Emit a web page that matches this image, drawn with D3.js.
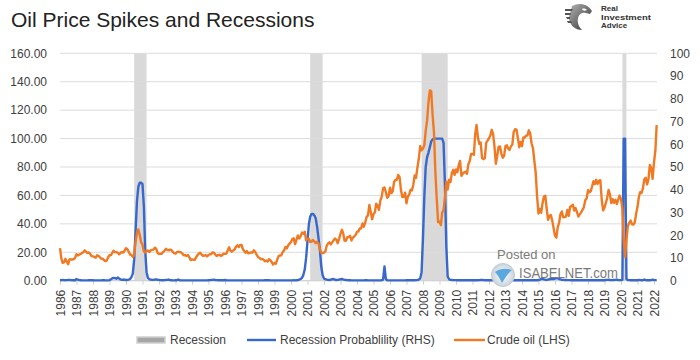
<!DOCTYPE html>
<html><head><meta charset="utf-8">
<script src="https://cdn.jsdelivr.net/npm/d3@7"></script>
<style>body{margin:0;background:#fff}svg{display:block;font-family:"Liberation Sans",Arial,sans-serif}</style>
</head><body><svg id="c" width="700" height="360"></svg>
<script>
// ---------- DATA ----------
const firstMonth = [1986, 0]; // Jan 1986, monthly series
const crudeOil = [
 22.93,15.46,12.61,12.84,15.38,13.43,11.59,15.10,14.87,14.90,15.22,16.11, // 1986
 18.65,17.75,18.30,18.68,19.44,20.07,21.34,20.31,19.53,19.86,18.85,17.28, // 1987
 17.13,16.80,16.20,17.86,17.42,16.53,15.50,15.52,14.54,13.77,14.14,16.38, // 1988
 18.02,17.94,19.48,21.07,20.12,20.05,19.78,18.58,19.59,20.10,19.86,21.10, // 1989
 22.86,22.11,20.39,18.43,18.20,16.70,18.45,27.31,33.51,36.04,32.33,27.28, // 1990
 25.23,20.48,19.90,20.83,21.23,20.19,21.40,21.69,21.89,23.23,22.46,19.50, // 1991
 18.79,19.01,18.92,20.23,20.98,22.39,21.78,21.34,21.88,21.69,20.34,19.41, // 1992
 19.03,20.09,20.32,20.25,19.95,19.09,17.89,18.01,17.50,18.15,16.61,14.52, // 1993
 15.03,14.78,14.68,16.42,17.89,19.06,19.66,18.38,17.45,17.72,18.07,17.16, // 1994
 18.04,18.57,18.54,19.90,19.74,18.45,17.33,18.02,18.23,17.43,17.99,19.03, // 1995
 18.85,19.09,21.33,23.50,21.17,20.42,21.30,21.90,23.97,24.88,23.71,25.23, // 1996
 25.13,22.18,20.97,19.70,20.82,19.26,19.66,19.95,19.80,21.33,20.19,18.33, // 1997
 16.72,16.06,15.12,15.35,14.91,13.72,14.17,13.47,15.03,14.46,13.00,11.35, // 1998
 12.52,12.01,14.68,17.31,17.72,17.92,20.10,21.28,23.80,22.69,25.00,26.10, // 1999
 27.26,29.37,29.84,25.72,28.79,31.82,29.70,31.26,33.88,33.11,34.42,28.44, // 2000
 29.59,29.61,27.25,27.49,28.63,27.60,26.43,27.37,26.20,22.17,19.64,19.39, // 2001
 19.72,20.72,24.53,26.18,27.04,25.52,26.97,28.39,29.66,28.84,26.35,29.46, // 2002
 32.95,35.83,33.51,28.17,28.11,30.66,30.75,31.57,28.31,30.34,31.11,32.13, // 2003
 34.31,34.69,36.74,36.75,40.28,38.03,40.78,44.90,45.94,53.28,48.47,43.15, // 2004
 46.84,48.15,54.19,52.98,49.83,56.35,58.99,64.98,65.59,62.26,58.32,59.41, // 2005
 65.49,61.63,62.69,69.44,70.84,70.95,74.41,73.04,63.80,58.89,59.08,61.96, // 2006
 54.51,59.28,60.44,63.98,63.46,67.49,74.12,72.36,79.92,85.80,94.77,91.69, // 2007
 92.97,95.39,105.45,112.58,125.40,133.88,133.37,116.67,104.11,76.61,57.31,41.12, // 2008
 41.71,39.09,47.94,49.65,59.03,69.64,64.15,71.05,69.41,75.72,77.99,74.47, // 2009
 78.33,76.39,81.20,84.29,73.74,75.34,76.32,76.60,75.24,81.89,84.25,89.15, // 2010
 89.17,88.58,102.86,109.53,100.90,96.26,97.30,86.33,85.52,86.32,97.16,98.56, // 2011
 100.27,102.20,106.16,103.32,94.66,82.30,87.90,94.13,94.51,89.49,86.53,87.86, // 2012
 94.76,95.31,92.94,92.02,94.51,95.77,104.67,106.57,106.29,100.54,93.86,97.63, // 2013
 94.62,100.82,100.80,102.07,102.18,105.79,103.59,96.54,93.21,84.40,75.79,59.29, // 2014
 47.22,50.58,47.82,54.45,59.27,59.82,50.90,42.87,45.48,46.22,42.44,37.19, // 2015
 31.68,30.32,37.55,40.75,46.71,48.76,44.65,44.72,45.18,49.78,45.66,51.97, // 2016
 52.50,53.47,49.33,51.06,48.48,45.18,46.63,48.04,49.82,51.58,56.64,57.88, // 2017
 63.70,62.23,62.73,66.25,69.98,67.87,70.98,68.06,70.23,70.75,56.96,49.52, // 2018
 51.38,54.95,58.15,63.86,60.83,54.66,57.35,54.81,56.95,53.96,57.03,59.88, // 2019
 57.52,50.54,29.21,16.55,28.56,38.31,40.71,42.34,39.63,39.40,40.94,47.02, // 2020
 52.00,59.04,62.33,61.72,65.17,71.38,72.49,67.73,71.65,81.48,79.15,71.71, // 2021
 83.22,91.64,109.50 // 2022
];
const recessionProb = [
 0.3,0.4,0.5,0.4,0.3,0.4,0.5,0.6,0.4,0.3,0.3,0.3, // 1986
 1.2,0.7,0.4,0.3,0.2,0.2,0.2,0.2,0.2,0.3,0.4,0.3, // 1987
 0.3,0.2,0.2,0.2,0.2,0.2,0.2,0.3,0.3,0.2,0.2,0.2, // 1988
 0.4,1.0,1.6,2.0,1.8,1.4,2.2,1.5,0.9,0.6,0.8,0.7, // 1989
 0.5,0.6,0.8,1.2,2.5,5,15,35,56,66,69,69,         // 1990
 68,52,22,6,2,1,0.8,0.6,0.6,0.8,0.9,0.7,          // 1991
 0.6,0.4,0.3,0.3,0.4,0.5,0.6,0.8,0.4,0.3,0.2,0.2, // 1992
 0.4,0.3,0.8,0.3,0.2,0.2,0.2,0.2,0.2,0.2,0.2,0.2, // 1993
 0.2,0.2,0.2,0.2,0.2,0.2,0.2,0.2,0.2,0.2,0.2,0.2, // 1994
 0.3,0.4,0.5,0.6,0.7,0.5,0.4,0.3,0.3,0.3,0.3,0.3, // 1995
 0.5,0.3,0.2,0.2,0.2,0.2,0.2,0.2,0.2,0.2,0.2,0.2, // 1996
 0.2,0.2,0.2,0.2,0.2,0.2,0.2,0.2,0.2,0.2,0.2,0.2, // 1997
 0.2,0.2,0.2,0.2,0.2,0.3,0.3,0.4,0.3,0.2,0.2,0.2, // 1998
 0.2,0.2,0.2,0.2,0.2,0.2,0.2,0.2,0.2,0.2,0.2,0.2, // 1999
 0.2,0.2,0.3,0.2,0.3,0.4,0.8,1.2,2,4,8,16,        // 2000
 28,40,45,47,47,46,44,38,30,22,10,4,              // 2001
 1.5,1,0.8,0.6,0.5,0.8,1,1.2,0.7,0.5,0.6,0.8,     // 2002
 1,1.2,0.9,0.6,0.5,0.4,0.3,0.3,0.2,0.2,0.2,0.2,   // 2003
 0.2,0.2,0.2,0.2,0.2,0.2,0.3,0.3,0.2,0.2,0.2,0.2, // 2004
 0.2,0.2,0.2,0.2,0.2,0.2,0.3,0.8,10,1.2,0.3,0.2,  // 2005
 0.2,0.2,0.2,0.2,0.2,0.2,0.2,0.2,0.2,0.2,0.2,0.2, // 2006
 0.3,0.4,0.3,0.3,0.3,0.3,0.3,0.4,0.5,0.8,1.5,6,   // 2007
 30,60,80,87,90,94,98,99.5,100,100,100,100,       // 2008
 100,100,100,97,68,24,3,1,0.6,0.5,0.4,0.4,        // 2009
 0.4,0.3,0.3,0.3,0.3,0.3,0.3,0.3,0.3,0.3,0.3,0.3, // 2010
 0.3,0.3,0.3,0.3,0.3,0.4,0.5,0.6,0.4,0.3,0.3,0.3, // 2011
 0.3,0.3,0.3,0.3,0.3,0.3,0.3,0.3,0.3,0.3,0.3,0.3, // 2012
 0.3,0.3,0.3,0.3,0.3,0.3,0.3,0.3,0.3,0.3,0.3,0.3, // 2013
 0.4,0.3,0.3,0.3,0.3,0.3,0.3,0.3,0.3,0.3,0.3,0.3, // 2014
 0.4,0.8,1.2,1.4,1.0,0.7,0.6,0.8,1.0,1.2,1.4,1.2, // 2015
 1.5,1.8,1.6,1.2,0.9,0.7,0.6,0.5,0.5,0.4,0.4,0.4, // 2016
 0.3,0.3,0.3,0.3,0.3,0.3,0.3,0.3,0.3,0.3,0.3,0.3, // 2017
 0.3,0.3,0.3,0.3,0.3,0.3,0.3,0.3,0.3,0.3,0.3,0.3, // 2018
 0.3,0.5,0.6,0.7,0.5,0.4,0.4,0.5,0.6,0.8,0.5,0.4, // 2019
 0.4,0.6,100,100,1.2,0.5,0.4,0.3,0.3,0.3,0.3,0.3, // 2020
 0.3,0.6,0.4,0.3,0.3,0.8,0.4,0.3,0.3,0.3,0.4,0.7, // 2021
 0.5,0.4,0.4                                       // 2022
];
const recessions = [["1990-07","1991-03"],["2001-03","2001-11"],["2007-12","2009-06"],["2020-02","2020-04"]];
const yearLabels = ["1986","1987","1988","1989","1990","1991","1992","1993","1994","1995","1996","1997","1998","1999","2000","2001","2002","2003","2004","2005","2006","2007","2008","2009","2010","2011","2012","2013","2014","2015","2016","2017","2018","2019","2020","2021","2022"];
const leftTicks = [0,20,40,60,80,100,120,140,160];
const rightTicks = [0,10,20,30,40,50,60,70,80,90,100];
const title = "Oil Price Spikes and Recessions";
const legendItems = ["Recession","Recession Probablility (RHS)","Crude oil (LHS)"];
const logoLines = ["Real","Investment","Advice"];

// ---------- CHART ----------
const svg = d3.select("#c");
const C = {orange:"#f07a24", blue:"#3868cc", grid:"#dcdcdc", band:"#d9d9d9", text:"#404040"};
const parseM = d3.utcParse("%Y-%m");
const monthDate = i => new Date(Date.UTC(firstMonth[0], firstMonth[1] + i, 1));
const x = d3.scaleUtc().domain([new Date(Date.UTC(1986,0,1)), new Date(Date.UTC(2022,0,1))]).range([60,654]);
const yL = d3.scaleLinear().domain([0,160]).range([280.7,53.3]);
const yR = d3.scaleLinear().domain([0,100]).range([280.7,53.3]);
const plotR = 657;

// title
svg.append("text").attr("x",11).attr("y",26.5).attr("font-size",21).attr("fill","#222").text(title);

// recession bands
svg.append("g").selectAll("rect").data(recessions).join("rect")
  .attr("x", d => x(parseM(d[0])))
  .attr("width", d => x(d3.utcMonth.offset(parseM(d[1]),1)) - x(parseM(d[0])))
  .attr("y", yL(160)).attr("height", yL(0)-yL(160)).attr("fill", C.band);

// gridlines
svg.append("g").selectAll("line").data(leftTicks).join("line")
  .attr("x1",60).attr("x2",plotR).attr("y1",d=>yL(d)).attr("y2",d=>yL(d))
  .attr("stroke",C.grid).attr("stroke-width",1);

// left axis
const axL = d3.axisLeft(yL).tickValues(leftTicks).tickFormat(d3.format(".2f")).tickSize(0).tickPadding(0);
const gL = svg.append("g").attr("transform","translate(47,0)").call(axL);
gL.select(".domain").remove();
gL.selectAll("text").attr("font-size",12).attr("fill",C.text).attr("font-family","Liberation Sans, Arial, sans-serif");

// right axis
const axR = d3.axisRight(yR).tickValues(rightTicks).tickSize(0).tickPadding(0);
const gR = svg.append("g").attr("transform","translate(670,0)").call(axR);
gR.select(".domain").remove();
gR.selectAll("text").attr("font-size",12).attr("fill",C.text).attr("font-family","Liberation Sans, Arial, sans-serif");

// x axis
const yearDates = yearLabels.map(y => new Date(Date.UTC(+y,0,1)));
const axX = d3.axisBottom(x).tickValues(yearDates).tickFormat(d3.utcFormat("%Y")).tickSize(4).tickPadding(0);
const gX = svg.append("g").attr("transform",`translate(0,${yL(0)})`).call(axX);
gX.select(".domain").attr("stroke","#cfcfcf").attr("d",`M60,0H${plotR}`);
gX.selectAll(".tick line").attr("stroke","#cfcfcf");
gX.selectAll("text").attr("font-size",12).attr("fill",C.text).attr("font-family","Liberation Sans, Arial, sans-serif")
  .attr("transform","rotate(-90)").attr("text-anchor","end").attr("x",-9).attr("y",0).attr("dy","0.36em");

// lines
const lineL = d3.line().x((d,i)=>x(monthDate(i))).y(d=>yL(d)).curve(d3.curveLinear);
svg.append("path").datum(recessionProb).attr("d",lineL).attr("fill","none")
  .attr("stroke",C.blue).attr("stroke-width",2.4).attr("stroke-linejoin","round");
svg.append("path").datum(crudeOil).attr("d",lineL).attr("fill","none")
  .attr("stroke",C.orange).attr("stroke-width",2.4).attr("stroke-linejoin","round");

// watermark
const wm = svg.append("g");
const defs = svg.append("defs");
const rg = defs.append("radialGradient").attr("id","gl");
rg.append("stop").attr("offset","0%").attr("stop-color","#ffffff");
rg.append("stop").attr("offset","100%").attr("stop-color","#c9d3dc");
wm.append("circle").attr("cx",503).attr("cy",275).attr("r",11.5).attr("fill","url(#gl)").attr("stroke","#c4c9ce").attr("stroke-width",1);
wm.append("path").attr("d","M495,272 C500,268 507,268 512,270 C508,273 505,278 502,283 C500,279 498,275 495,272 Z").attr("fill","#5aa8e0");
wm.append("text").attr("x",497).attr("y",259).attr("font-size",13).attr("fill","#7a7a7a").text("Posted on");
wm.append("text").attr("x",519).attr("y",278).attr("font-size",15).attr("fill","#7a7a7a")
  .attr("textLength",99).attr("lengthAdjust","spacingAndGlyphs").text("ISABELNET.com");

// logo
const lg = defs.append("linearGradient").attr("id","eg").attr("x1","0").attr("y1","0").attr("x2","1").attr("y2","1");
lg.append("stop").attr("offset","0%").attr("stop-color","#b5b5b5");
lg.append("stop").attr("offset","100%").attr("stop-color","#2e2e2e");
const logo = svg.append("g").attr("transform","translate(565,3)");
logo.append("path").attr("fill","url(#eg)")
  .attr("d","M7,3 C14,-1 23,1 27,8 L25,11 L21,10 C17,9 14,11 13,15 C12,20 14,24 17,27 C9,27 4,21 4,14 Z");
logo.append("path").attr("fill","#555").attr("d","M0,6 L8,6 L7,8 L0,8 Z M0,10 L6,10 L5.5,12 L0,12 Z M1,14 L5,14 L5,16 L2,16 Z M2,18 L6,18 L7,20 L3,20 Z");
logo.append("path").attr("fill","#fff").attr("d","M17,6 C19,5 21,6 22,7 C20,8 18,8 17,6 Z");
const lt = svg.append("g").attr("font-size",8).attr("font-weight","bold").attr("fill","#333");
lt.selectAll("text").data(logoLines).join("text")
  .attr("x",601).attr("y",(d,i)=>11+i*8.6).text(d=>d);
lt.selectAll("text").filter(d=>d==="Investment").attr("textLength",50).attr("lengthAdjust","spacingAndGlyphs");

// legend
const leg = svg.append("g").attr("font-size",12).attr("fill",C.text);
leg.append("rect").attr("x",137).attr("y",337).attr("width",28).attr("height",6).attr("fill","#a6a6a6").attr("stroke","#d0d0d0").attr("stroke-width",1.5);
leg.append("text").attr("x",170).attr("y",344).text(legendItems[0]);
leg.append("line").attr("x1",247).attr("x2",276).attr("y1",340).attr("y2",340).attr("stroke",C.blue).attr("stroke-width",2.4);
leg.append("text").attr("x",280).attr("y",344).text(legendItems[1]);
leg.append("line").attr("x1",454).attr("x2",485).attr("y1",340).attr("y2",340).attr("stroke",C.orange).attr("stroke-width",2.4);
leg.append("text").attr("x",487).attr("y",344).text(legendItems[2]);
</script></body></html>
